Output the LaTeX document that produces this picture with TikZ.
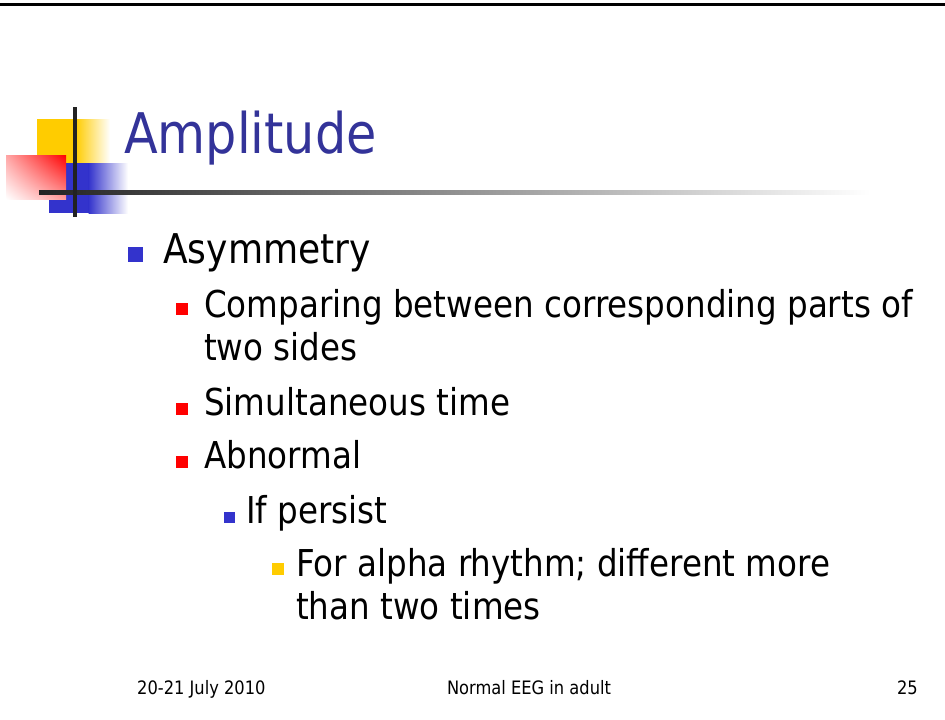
\documentclass[tikz,border=0pt]{standalone}
\usepackage{fontspec}
\usetikzlibrary{shadings}
\setmainfont{DejaVu Sans}[FakeStretch=0.88]
\definecolor{titleblue}{HTML}{333399}
\definecolor{bblue}{HTML}{3333CC}
\definecolor{byellow}{HTML}{FFCC00}
\definecolor{bred}{HTML}{FF0000}
\definecolor{rulegray}{HTML}{222222}
\tikzset{
  txt/.style={anchor=base west, inner sep=0pt, align=left},
  bul/.style={anchor=south west, inner sep=0pt, minimum width=#1, minimum height=#1},
  lvtwo/.style={txt, font=\fontsize{37}{43}\selectfont},
  foot/.style={inner sep=0pt, font=\fontsize{18.5}{20}\selectfont},
}
\begin{document}
\begin{tikzpicture}[x=1pt,y=-1pt]
\useasboundingbox (0,0) rectangle (945,720);
\fill[white] (0,0) rectangle (945,720);
% top rule
\fill[black] (0,3) rectangle (945,6);
% logo
\fill[byellow] (37,119) rectangle (76,163);
\shade[left color=byellow, right color=white] (75.5,119) rectangle (110,163);
\fill[bblue] (49,163) rectangle (89,213);
\shade[left color=bblue, right color=white] (88.5,163) rectangle (128,213);
\shade[upper right=bred, lower left=white, upper left=bred!35, lower right=bred!40] (6,155) rectangle (66,199);
\shade[left color=rulegray, right color=white] (39,190) rectangle (870,194);
\fill[rulegray] (73,107) rectangle (77,217);
% title
\node[txt, font=\fontsize{56}{60}\selectfont, text=titleblue] (title) at (124,153) {Amplitude};
% bullets
\node[bul=15pt, fill=bblue] (b1) at (128,262) {};
\node[txt, font=\fontsize{41}{48}\selectfont] (t1) at (163,263) {Asymmetry};
\node[bul=12pt, fill=bred] (b2) at (176,315) {};
\node[lvtwo] (t2) at (204,360) {Comparing between corresponding parts of\\two sides};
\node[bul=12pt, fill=bred] (b3) at (176,415) {};
\node[lvtwo] (t3) at (204,415) {Simultaneous time};
\node[bul=12pt, fill=bred] (b4) at (176,468) {};
\node[lvtwo] (t4) at (204,468) {Abnormal};
\node[bul=11pt, fill=bblue] (b5) at (224,523) {};
\node[lvtwo] (t5) at (246,523) {If persist};
\node[bul=12pt, fill=byellow] (b6) at (272,575) {};
\node[lvtwo] (t6) at (296,619) {For alpha rhythm; different more\\than two times};
% footer
\node[foot, anchor=base west] (f1) at (137,694) {20-21 July 2010};
\node[foot, anchor=base] (f2) at (529,694) {Normal EEG in adult};
\node[foot, anchor=base east] (f3) at (918,694) {25};
\end{tikzpicture}
\end{document}
